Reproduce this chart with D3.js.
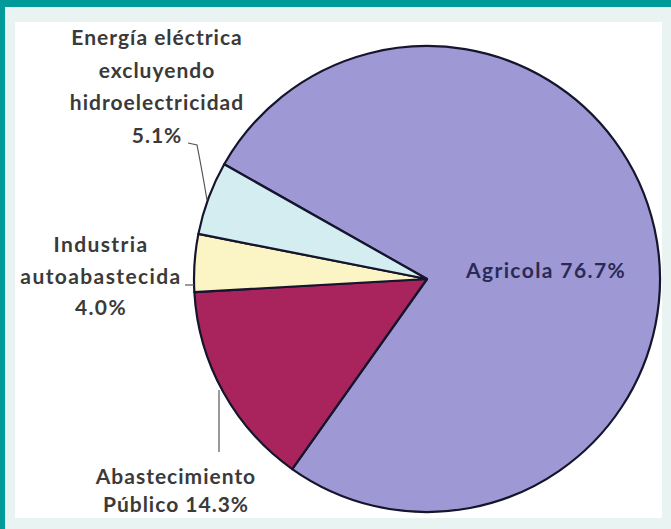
<!DOCTYPE html>
<html><head><meta charset="utf-8">
<script src="https://cdn.jsdelivr.net/npm/d3@7"></script>
<style>html,body{margin:0;padding:0;background:#e9f3f2;}svg{display:block;}</style>
</head><body>
<script>
const categories = ["Agrícola", "Abastecimiento Público", "Industria autoabastecida", "Energía eléctrica excluyendo hidroelectricidad"];
const values = [76.7, 14.3, 4.0, 5.1];
const colors = ["#9e99d4", "#a9245d", "#fbf5c6", "#d3edf0"];
const labelLines = [
  ["Agricola 76.7%"],
  ["Abastecimiento", "Público 14.3%"],
  ["Industria", "autoabastecida", "4.0%"],
  ["Energía eléctrica", "excluyendo", "hidroelectricidad", "5.1%"]
];

const W = 671, H = 529;
const svg = d3.select("body").append("svg").attr("width", W).attr("height", H);
svg.append("rect").attr("width", W).attr("height", H).attr("fill", "#e9f3f2");
svg.append("rect").attr("x", 0).attr("y", 0).attr("width", W).attr("height", 7).attr("fill", "#009a9a");
svg.append("rect").attr("x", 0).attr("y", 0).attr("width", 5).attr("height", H).attr("fill", "#009a9a");
svg.append("rect").attr("x", 15).attr("y", 22).attr("width", 647).attr("height", 496).attr("fill", "#ffffff");

const cx = 427, cy = 279, r = 233;
const pie = d3.pie().sort(null).value(d => d).startAngle(-60.5 * Math.PI / 180).endAngle((360 - 60.5) * Math.PI / 180);
const arcs = pie(values);
const arc = d3.arc().innerRadius(0).outerRadius(r);
const g = svg.append("g").attr("transform", `translate(${cx},${cy})`);
g.selectAll("path").data(arcs).enter().append("path")
  .attr("d", arc)
  .attr("fill", (d, i) => colors[i])
  .attr("stroke", "#15152e")
  .attr("stroke-width", 2.2)
  .attr("stroke-linejoin", "round");

// leader lines
const lead = svg.append("g").attr("fill", "none").attr("stroke", "#555").attr("stroke-width", 1.2);
lead.append("path").attr("d", "M188,143 L197,145 Q202,170 207,200");
lead.append("path").attr("d", "M185,285 L194,285");
lead.append("path").attr("d", "M219,390 L219,452");

const font = "Lato, 'Open Sans', sans-serif";
function block(lines, x, y0, dy, color, ls, weight) {
  const t = svg.append("text").attr("font-family", font).attr("font-size", 21)
    .attr("font-weight", weight).attr("letter-spacing", ls)
    .attr("fill", color).attr("text-anchor", "middle");
  lines.forEach((l, i) => t.append("tspan").attr("x", x).attr("y", y0 + i * dy).text(l));
}
block(labelLines[3], 157, 45, 32.7, "#3a3a3a", 1, "bold");
block(labelLines[2], 101, 252, 31.5, "#3a3a3a", 1.4, "bold");
block(labelLines[1], 176, 484, 28, "#3a3a3a", 1, "bold");
block(labelLines[0], 546, 278, 0, "#2a2a58", 1.4, "bold");
</script>
</body></html>
